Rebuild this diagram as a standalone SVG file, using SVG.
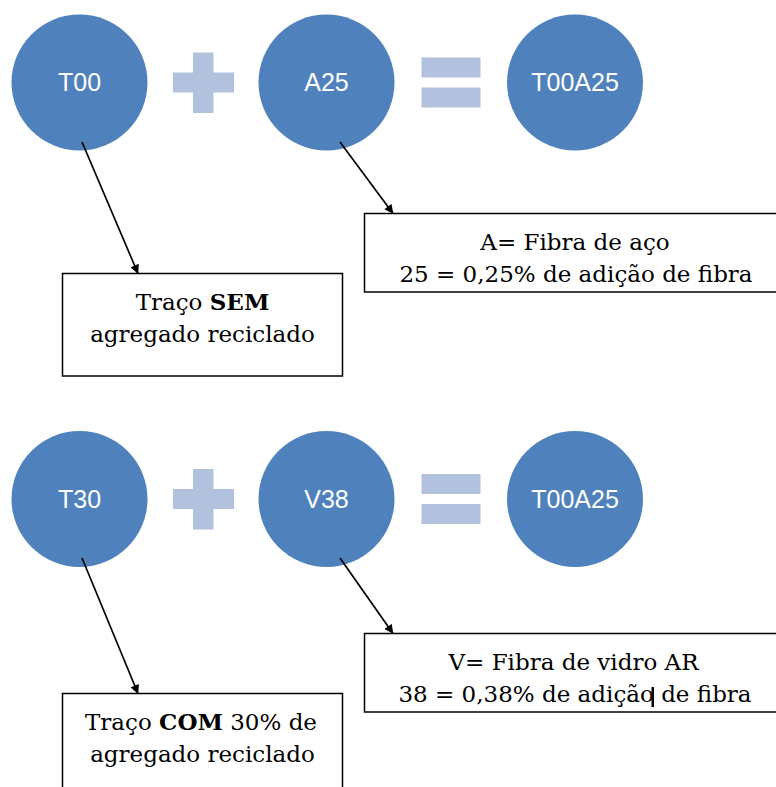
<svg xmlns="http://www.w3.org/2000/svg" width="776" height="787" viewBox="0 0 776 787">
<defs>
<style>
.node{fill:#4F81BD;}
.op{fill:#B2C2DE;}
.lbl{font-family:"Liberation Sans",Arial,sans-serif;font-size:25px;fill:#FFFFFF;text-anchor:middle;}
.box{fill:#FFFFFF;stroke:#000000;stroke-width:1.5;}
.txt{font-family:"DejaVu Serif","Liberation Serif",serif;font-size:23px;fill:#000000;text-anchor:middle;}
.b{font-weight:bold;}
.conn{stroke:#000000;stroke-width:1.7;fill:none;marker-end:url(#arr);}
</style>
<marker id="arr" viewBox="0 0 10 10" refX="9.5" refY="5" markerWidth="10" markerHeight="9" orient="auto" markerUnits="userSpaceOnUse">
<path d="M0,0 L10,5 L0,10 Z" fill="#000000"/>
</marker>
</defs>
<rect x="0" y="0" width="776" height="787" fill="#FFFFFF"/>

<g id="row1">
<g id="n-T00"><circle class="node" cx="79.5" cy="82.5" r="68"/><text class="lbl" x="79.5" y="91">T00</text></g>
<g id="op-plus1"><rect class="op" x="193" y="52.5" width="20.5" height="60.5"/><rect class="op" x="173" y="72.5" width="61" height="20"/></g>
<g id="n-A25"><circle class="node" cx="326.5" cy="82.5" r="68"/><text class="lbl" x="326.5" y="91">A25</text></g>
<g id="op-eq1"><rect class="op" x="421.5" y="57.5" width="59" height="20"/><rect class="op" x="421.5" y="87.5" width="59" height="20"/></g>
<g id="n-T00A25"><circle class="node" cx="575" cy="82.5" r="68"/><text class="lbl" x="575" y="91">T00A25</text></g>
<g id="box-sem"><rect class="box" x="62.5" y="273.5" width="280" height="102.5"/><text class="txt" x="202.5" y="310">Traço <tspan class="b">SEM</tspan></text><text class="txt" x="202.5" y="341.5">agregado reciclado</text></g>
<g id="box-aco"><rect class="box" x="364.5" y="213.5" width="420" height="78.5"/><text class="txt" x="575" y="250">A= Fibra de aço</text><text class="txt" x="576" y="281.5">25 = 0,25% de adição de fibra</text></g>
</g>

<g id="row2">
<g id="n-T30"><circle class="node" cx="79.5" cy="499" r="68"/><text class="lbl" x="79.5" y="507.5">T30</text></g>
<g id="op-plus2"><rect class="op" x="193" y="469" width="20.5" height="60.5"/><rect class="op" x="173" y="489" width="61" height="20"/></g>
<g id="n-V38"><circle class="node" cx="326.5" cy="499" r="68"/><text class="lbl" x="326.5" y="507.5">V38</text></g>
<g id="op-eq2"><rect class="op" x="421.5" y="474" width="59" height="20"/><rect class="op" x="421.5" y="504" width="59" height="20"/></g>
<g id="n-T00A25-2"><circle class="node" cx="575" cy="499" r="68"/><text class="lbl" x="575" y="507.5">T00A25</text></g>
<g id="box-com"><rect class="box" x="62.5" y="693.5" width="280" height="110"/><text class="txt" x="201" y="730">Traço <tspan class="b">COM</tspan> 30% de</text><text class="txt" x="202.5" y="761.5">agregado reciclado</text></g>
<g id="box-vidro"><rect class="box" x="364.5" y="633.5" width="420" height="78.5"/><text class="txt" x="573.5" y="670">V= Fibra de vidro AR</text><text class="txt" x="575" y="701.5">38 = 0,38% de adição de fibra</text><rect x="651.5" y="687" width="2.5" height="20" fill="#000000"/></g>
</g>

<g id="connectors">
<line class="conn" x1="82" y1="142" x2="138" y2="273.5"/>
<line class="conn" x1="340" y1="142" x2="393" y2="213.5"/>
<line class="conn" x1="82" y1="558" x2="138" y2="693.5"/>
<line class="conn" x1="340" y1="558" x2="393" y2="633.5"/>
</g>
</svg>
